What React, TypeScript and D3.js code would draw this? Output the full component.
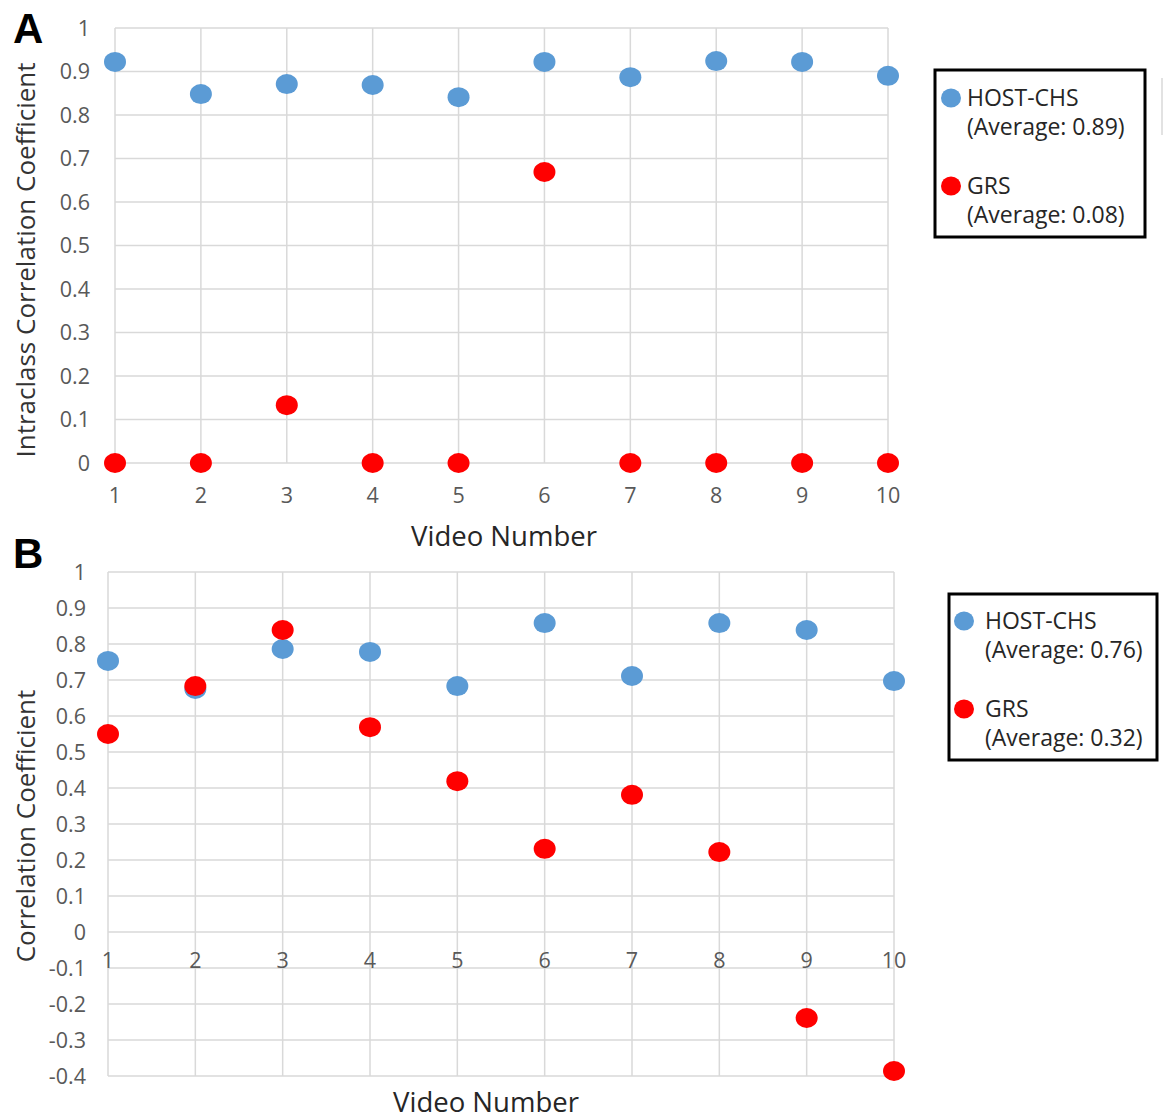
import React, { useEffect, useRef } from 'react';
import * as d3 from 'd3';

// Video numbers on the x axis
const videos = [1, 2, 3, 4, 5, 6, 7, 8, 9, 10];

// Panel A: intraclass correlation coefficient
const hostA = [0.922, 0.848, 0.871, 0.869, 0.841, 0.922, 0.887, 0.924, 0.922, 0.89];
const grsA = [0, 0, 0.133, 0, 0, 0.669, 0, 0, 0, 0];
const ticksA = [0, 0.1, 0.2, 0.3, 0.4, 0.5, 0.6, 0.7, 0.8, 0.9, 1];
const legendA = ['HOST-CHS', '(Average: 0.89)', 'GRS', '(Average: 0.08)'];

// Panel B: correlation coefficient
const hostB = [0.753, 0.675, 0.786, 0.778, 0.683, 0.858, 0.711, 0.858, 0.839, 0.697];
const grsB = [0.55, 0.683, 0.839, 0.569, 0.419, 0.231, 0.381, 0.222, -0.239, -0.386];
const ticksB = [-0.4, -0.3, -0.2, -0.1, 0, 0.1, 0.2, 0.3, 0.4, 0.5, 0.6, 0.7, 0.8, 0.9, 1];
const legendB = ['HOST-CHS', '(Average: 0.76)', 'GRS', '(Average: 0.32)'];

const BLUE = '#5b9bd5';
const RED = '#ff0000';
const GRID = '#d9d9d9';
const TICK = '#595959';
const FONT = '"Open Sans", sans-serif';

// Excel style labels: plain hyphen for negatives
const fmt = (d) => String(+d.toFixed(1)).replace('\u2212', '-');

const App = () => {
    const svgRef = useRef(null);

    useEffect(() => {
        const svg = d3.select(svgRef.current);
        svg.selectAll('*').remove();

        const drawPanel = (cfg) => {
            const x = d3.scaleLinear().domain([1, 10]).range([cfg.x0, cfg.x1]);
            const y = d3.scaleLinear().domain(cfg.domain).range([cfg.yBottom, cfg.yTop]);
            const g = svg.append('g');

            // horizontal grid
            g.selectAll('line.h').data(cfg.ticks).enter().append('line')
                .attr('x1', cfg.x0).attr('x2', cfg.x1)
                .attr('y1', d => y(d)).attr('y2', d => y(d))
                .attr('stroke', GRID).attr('stroke-width', 1.5);

            // vertical grid
            g.selectAll('line.v').data(videos).enter().append('line')
                .attr('x1', d => x(d)).attr('x2', d => x(d))
                .attr('y1', y(cfg.domain[0])).attr('y2', y(cfg.domain[1]))
                .attr('stroke', GRID).attr('stroke-width', 1.5);

            // y tick labels
            g.selectAll('text.yt').data(cfg.ticks).enter().append('text')
                .attr('x', cfg.yLabelX).attr('y', d => y(d))
                .attr('dy', '0.35em')
                .attr('text-anchor', 'end')
                .attr('font-family', FONT).attr('font-size', 21.5)
                .attr('fill', TICK)
                .text(fmt);

            // x tick labels
            g.selectAll('text.xt').data(videos).enter().append('text')
                .attr('x', d => x(d)).attr('y', cfg.xLabelY)
                .attr('text-anchor', 'middle')
                .attr('font-family', FONT).attr('font-size', 21.5)
                .attr('fill', TICK)
                .text(d => d);

            // points
            const dots = (vals, color) => {
                g.selectAll(null).data(vals).enter().append('ellipse')
                    .attr('cx', (d, i) => x(videos[i]))
                    .attr('cy', d => y(d))
                    .attr('rx', 11).attr('ry', 10)
                    .attr('fill', color);
            };
            dots(cfg.host, BLUE);
            dots(cfg.grs, RED);

            // axis titles
            g.append('text')
                .attr('transform', `translate(${cfg.yTitleX}, ${cfg.yTitleY}) rotate(-90)`)
                .attr('text-anchor', 'middle')
                .attr('font-family', FONT).attr('font-size', 26)
                .attr('fill', '#333')
                .text(cfg.yTitle);
            g.append('text')
                .attr('x', cfg.xTitleX).attr('y', cfg.xTitleY)
                .attr('text-anchor', 'middle')
                .attr('font-family', FONT).attr('font-size', 27.5)
                .attr('fill', '#262626')
                .text('Video Number');

            // panel letter
            g.append('text')
                .attr('x', 13).attr('y', cfg.letterY)
                .attr('font-family', '"Liberation Sans", Arial, sans-serif')
                .attr('font-weight', 'bold').attr('font-size', 42)
                .attr('fill', '#000')
                .text(cfg.letter);

            // legend
            const lg = cfg.legend;
            g.append('rect')
                .attr('x', lg.x).attr('y', lg.y)
                .attr('width', lg.w).attr('height', lg.h)
                .attr('fill', '#fff').attr('stroke', '#000').attr('stroke-width', 3);
            [BLUE, RED].forEach((c, k) => {
                const cy = lg.y + lg.first + k * lg.gap;
                g.append('ellipse')
                    .attr('cx', lg.x + lg.dotDx).attr('cy', cy)
                    .attr('rx', 10).attr('ry', 9.5).attr('fill', c);
                [cfg.labels[k * 2], cfg.labels[k * 2 + 1]].forEach((t, j) => {
                    g.append('text')
                        .attr('x', lg.x + lg.textDx).attr('y', cy + j * 29)
                        .attr('dy', '0.35em')
                        .attr('font-family', FONT).attr('font-size', 23)
                        .attr('fill', '#262626')
                        .text(t);
                });
            });
        };

        drawPanel({
            letter: 'A', letterY: 43,
            x0: 115, x1: 888, yTop: 28, yBottom: 463,
            domain: [0, 1], ticks: ticksA,
            host: hostA, grs: grsA, labels: legendA,
            yLabelX: 90, xLabelY: 503,
            yTitle: 'Intraclass Correlation Coefficient', yTitleX: 35, yTitleY: 260,
            xTitleX: 504, xTitleY: 546,
            legend: { x: 935, y: 70, w: 210, h: 167, first: 28, gap: 88, dotDx: 16, textDx: 32 }
        });

        drawPanel({
            letter: 'B', letterY: 568,
            x0: 108, x1: 894, yTop: 572, yBottom: 1076,
            domain: [-0.4, 1], ticks: ticksB,
            host: hostB, grs: grsB, labels: legendB,
            yLabelX: 86, xLabelY: 968,
            yTitle: 'Correlation Coefficient', yTitleX: 35, yTitleY: 826,
            xTitleX: 486, xTitleY: 1112,
            legend: { x: 949, y: 594, w: 208, h: 166, first: 27, gap: 88, dotDx: 15, textDx: 36 }
        });

        // faint vertical line at the far right edge of the original figure
        svg.append('line')
            .attr('x1', 1162).attr('x2', 1162).attr('y1', 78).attr('y2', 135)
            .attr('stroke', '#d9d9d9').attr('stroke-width', 1.5);
    }, []);

    return (
        <svg
            ref={svgRef}
            width={1167}
            height={1120}
            style={{ position: 'absolute', left: 0, top: 0, background: '#fff', display: 'block' }}
        ></svg>
    );
};

export default App;
